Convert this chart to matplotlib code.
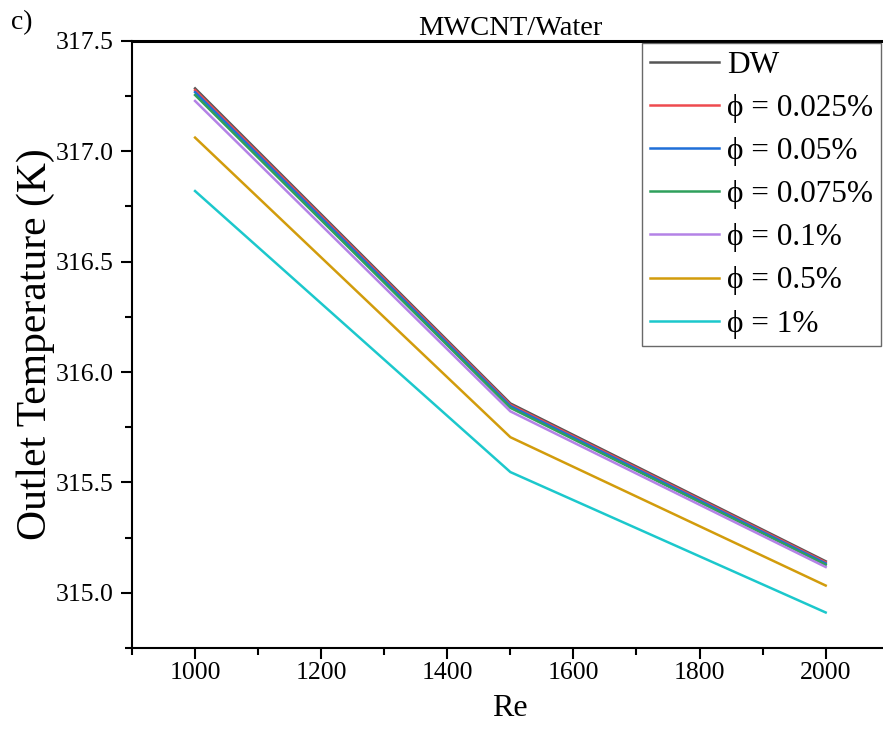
import matplotlib
matplotlib.use('Agg')
import matplotlib.pyplot as plt
from matplotlib.ticker import MultipleLocator, FormatStrFormatter

plt.rcParams['font.family'] = ['Liberation Serif', 'DejaVu Serif']
plt.rcParams['mathtext.fontset'] = 'stix'

# Reynolds numbers and outlet temperatures (K)
re = [1000, 1500, 2000]
labels = ['DW', '\u03d5 = 0.025%', '\u03d5 = 0.05%', '\u03d5 = 0.075%',
          '\u03d5 = 0.1%', '\u03d5 = 0.5%', '\u03d5 = 1%']
t_dw = [317.285, 315.858, 315.143]
t_0025 = [317.277, 315.852, 315.138]
t_005 = [317.268, 315.846, 315.133]
t_0075 = [317.255, 315.838, 315.127]
t_01 = [317.228, 315.822, 315.117]
t_05 = [317.062, 315.705, 315.033]
t_1 = [316.820, 315.547, 314.911]
colors = ['#555555', '#ee4a4f', '#1f6fd8', '#2fa05c', '#b482e6', '#d29c0c', '#1cc8cc']

fig = plt.figure(figsize=(8.83, 7.44), dpi=100)
ax = fig.add_axes([0.1495, 0.129, 0.857, 0.816])

series = [t_dw, t_0025, t_005, t_0075, t_01, t_05, t_1]
for t, lab, c in zip(series, labels, colors):
    ax.plot(re, t, color=c, lw=1.8, label=lab)

ax.set_xlim(900, 2100)
ax.set_ylim(314.75, 317.5)
ax.xaxis.set_major_locator(MultipleLocator(200))
ax.xaxis.set_minor_locator(MultipleLocator(100))
ax.yaxis.set_major_locator(MultipleLocator(0.5))
ax.yaxis.set_minor_locator(MultipleLocator(0.25))
ax.yaxis.set_major_formatter(FormatStrFormatter('%.1f'))

ax.tick_params(which='major', direction='out', length=8, width=1.5, labelsize=18.5, pad=5)
ax.tick_params(axis='x', which='major', pad=2)
ax.tick_params(which='minor', direction='out', length=5, width=1.5)
for s in ['left', 'bottom']:
    ax.spines[s].set_linewidth(1.5)
ax.spines['top'].set_linewidth(2.2)
ax.spines['right'].set_visible(False)

ax.set_xlabel('Re', fontsize=23, labelpad=7)
ax.set_ylabel('Outlet Temperature (K)', fontsize=30, labelpad=1)
ax.set_title('MWCNT/Water', fontsize=20.5, pad=1)
fig.text(0.012, 0.97, 'c)', fontsize=20, va='center')

leg = ax.legend(loc='upper right', bbox_to_anchor=(0.9895, 0.996), fontsize=22.5,
                frameon=True, fancybox=False, handlelength=2.2, handletextpad=0.25,
                labelspacing=0.45, borderpad=0.25, borderaxespad=0.0)
leg.get_frame().set_edgecolor('#444444')
leg.get_frame().set_linewidth(1.0)

fig.savefig('out.png', dpi=100)
